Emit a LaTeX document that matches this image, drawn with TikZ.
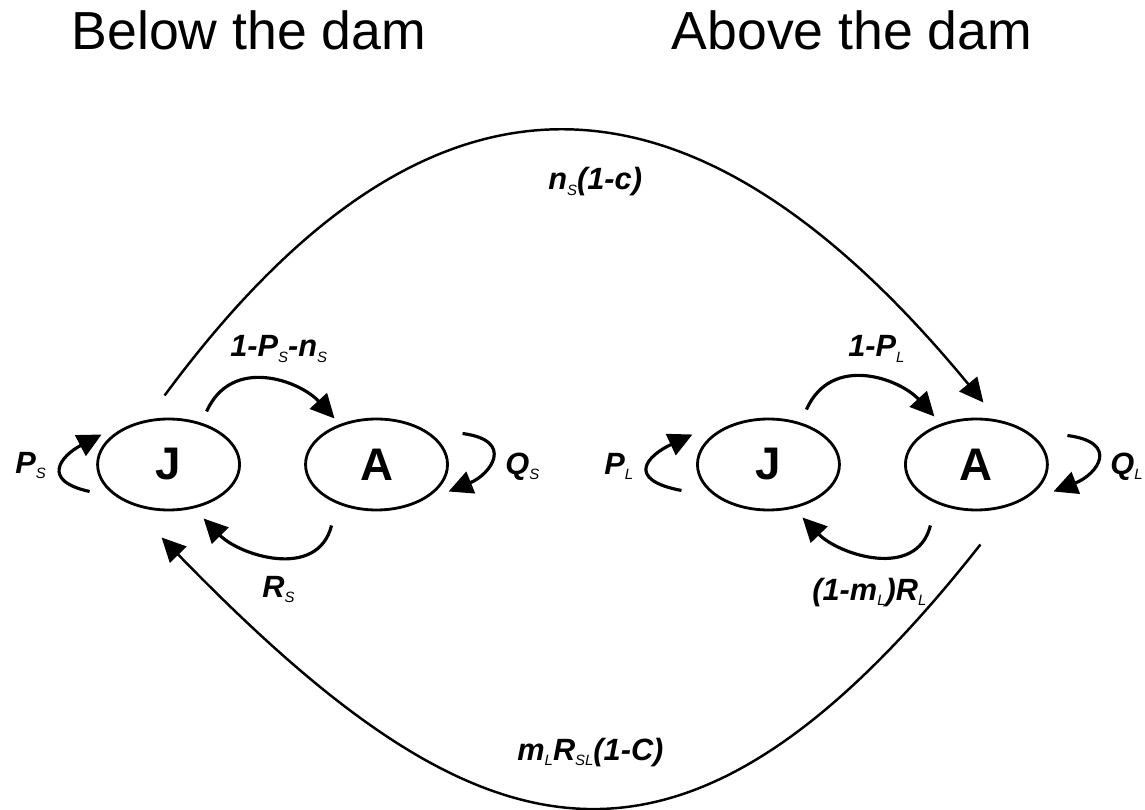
\documentclass[tikz,border=0pt]{standalone}
\usepackage{fontspec}
\setmainfont{Liberation Sans}
\usepackage{tikz}
\usetikzlibrary{arrows.meta,shapes.geometric}

\newcommand{\lowidx}[1]{\raisebox{-3.4pt}{\fontsize{8.5}{8.5}\selectfont\mdseries\itshape #1}}

\begin{document}
\begin{tikzpicture}[x=0.02cm, y=-0.02cm,
    stage/.style={draw, ellipse, line width=1.6pt, minimum width=2.84cm, minimum height=1.82cm,
      inner sep=0pt, font=\fontsize{26}{30}\selectfont\bfseries},
    lbl/.style={anchor=base west, inner sep=0pt, font=\fontsize{17.5}{20}\selectfont\bfseries\itshape},
    title/.style={anchor=base, inner sep=0pt, font=\fontsize{30.5}{35}\selectfont},
    flow/.style={line width=1.8pt, -{Triangle[length=0.48cm,width=0.46cm]}},
    jump/.style={flow, line width=1.4pt}]
      \useasboundingbox (0,0) rectangle (1145,810);
      \node[title] (below) at (249,50) {Below the dam};
      \node[title] (above) at (852,50) {Above the dam};
      \matrix[column sep={4.16cm,between origins}] (stages) at (572.5,464.5)
      {
        \node[stage] (J1) {J}; & \node[stage] (A1) {A}; &[3.68cm] \node[stage] (J2) {J}; & \node[stage] (A2) {A}; \\
      };
      % staying put
      \draw[flow] ([shift={(-79,27)}]J1.center) .. controls +(-50,-11) and +(-40,21) .. ([shift={(-67,-30)}]J1.center);
      \draw[flow] ([shift={(86,-31)}]A1.center) .. controls +(53,7) and +(42,-17) .. ([shift={(72,27)}]A1.center);
      \draw[flow] ([shift={(-87,26)}]J2.center) .. controls +(-57,-11) and +(-45,21) .. ([shift={(-76,-30)}]J2.center);
      \draw[flow] ([shift={(91,-29)}]A2.center) .. controls +(53,7) and +(44,-17) .. ([shift={(77,27)}]A2.center);
      % growing up and going back
      \draw[flow] ([shift={(38,-53)}]J1.center) .. controls +(25,-56) and +(-35,-38) .. ([shift={(-42,-46)}]A1.center);
      \draw[flow] ([shift={(-45,61)}]A1.center) .. controls +(-14,55) and +(36,37) .. ([shift={(35,54)}]J1.center);
      \draw[flow] ([shift={(38,-55)}]J2.center) .. controls +(25,-56) and +(-35,-38) .. ([shift={(-42,-48)}]A2.center);
      \draw[flow] ([shift={(-46,61)}]A2.center) .. controls +(-14,55) and +(36,37) .. ([shift={(34,53)}]J2.center);
      % over and under the dam
      \draw[jump] ([shift={(-4,-69)}]J1.center) .. controls +(254,-344) and +(-304,-369) .. ([shift={(7,-62)}]A2.center);
      \draw[jump] ([shift={(4,80)}]A2.center) .. controls +(-303,385) and +(314,323) .. ([shift={(-7,73)}]J1.center);
      \node[lbl] (tPS) at (15,473) {P\lowidx{S}};
      \node[lbl] (tQS) at (505,474) {Q\lowidx{S}};
      \node[lbl] (tPL) at (604,474) {P\lowidx{L}};
      \node[lbl] (tQL) at (1110,474) {Q\lowidx{L}};
      \node[lbl] (tJAS) at (230,357) {1-P\lowidx{S}-n\lowidx{S}};
      \node[lbl] (tJAL) at (848,357) {1-P\lowidx{L}};
      \node[lbl] (tRS) at (262,597) {R\lowidx{S}};
      \node[lbl] (tRL) at (812,600) {(1-m\lowidx{L})R\lowidx{L}};
      \node[lbl] (tup) at (548,190) {n\lowidx{S}(1-c)};
      \node[lbl] (tdown) at (517,760) {m\lowidx{L}R\lowidx{SL}(1-C)};
    \end{tikzpicture}
\end{document}
